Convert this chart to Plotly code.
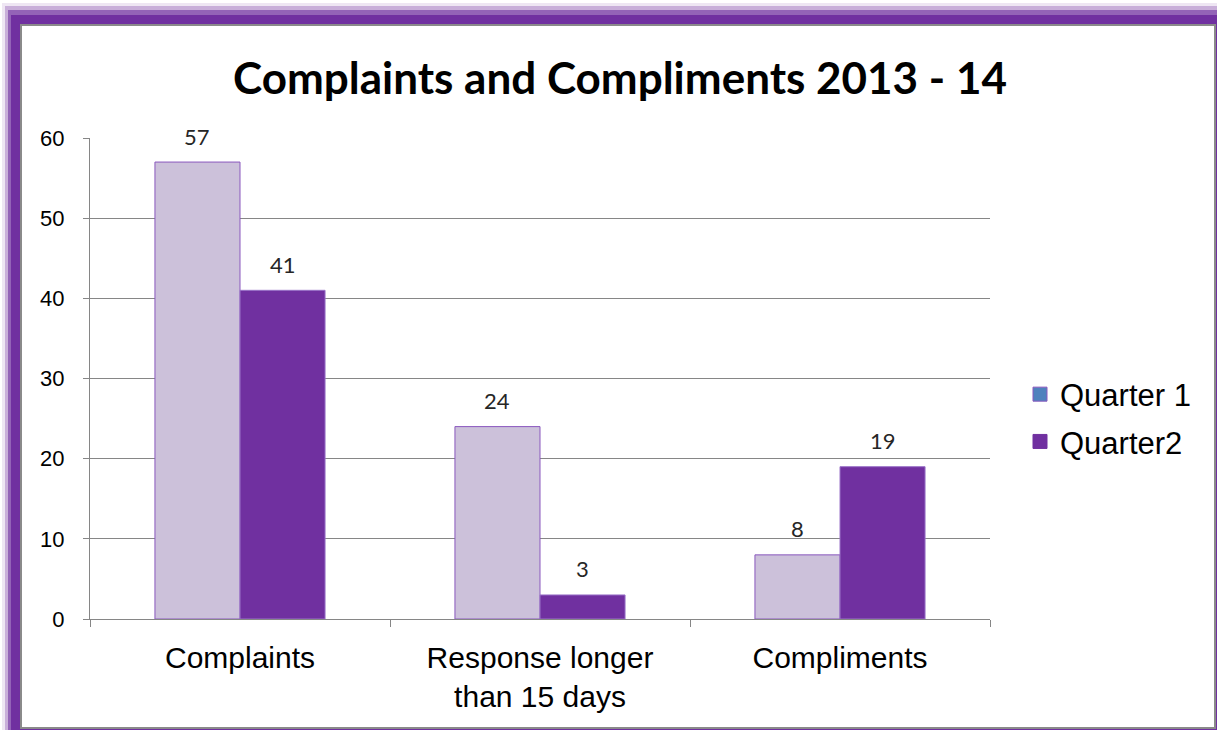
import plotly.graph_objects as go

categories = ["Complaints", "Response longer<br>than 15 days", "Compliments"]
quarter1 = [57, 24, 8]
quarter2 = [41, 3, 19]
series_names = ["Quarter 1", "Quarter2"]
title_text = "Complaints and Compliments 2013 - 14"
y_ticks = [0, 10, 20, 30, 40, 50, 60]

W, H = 1217, 730
L, R, T, B = 90, 990, 138, 619

def px_x(p):
    return (p - L) / (R - L)

def px_y(p):
    return (B - p) / (B - T)

fig = go.Figure()
fig.add_trace(go.Bar(x=categories, y=quarter1, name=series_names[0], showlegend=False,
                     marker=dict(color="#CCC1DA", line=dict(color="#8a58be", width=1))))
fig.add_trace(go.Bar(x=categories, y=quarter2, name=series_names[1], showlegend=False,
                     marker=dict(color="#7030A0", line=dict(color="#9a72c8", width=1))))
# legend-only entries (Excel legend shows the series default swatches)
fig.add_trace(go.Scatter(x=[None], y=[None], mode="markers", name=series_names[0], legendgroup="a",
                         marker=dict(symbol="square", size=14, color="#4F81BD",
                                     line=dict(color="#8a58be", width=1))))
fig.add_trace(go.Scatter(x=[None], y=[None], mode="markers", name=series_names[1], legendgroup="b",
                         marker=dict(symbol="square", size=14, color="#7030A0",
                                     line=dict(color="#7030A0", width=1))))

bargap = 0.433
half = (1 - bargap) / 4
annotations = []
for series, off in ((quarter1, -half), (quarter2, half)):
    for i, v in enumerate(series):
        annotations.append(dict(x=i + off, y=v, xref="x", yref="y", text=str(v),
                                showarrow=False, yanchor="middle", yshift=26,
                                font=dict(family="Lato, Carlito, sans-serif", size=22, color="#262626")))

annotations.append(dict(x=px_x(620), y=px_y(77), xref="paper", yref="paper",
                        text="<b>" + title_text + "</b>", showarrow=False,
                        xanchor="center", yanchor="middle",
                        font=dict(family="Lato, Carlito, sans-serif", size=44, color="black")))

shapes = []
def rect(x0, y0, x1, y1, color):
    shapes.append(dict(type="rect", xref="paper", yref="paper", layer="below",
                       x0=px_x(x0), x1=px_x(x1), y0=px_y(y0), y1=px_y(y1),
                       fillcolor=color, line=dict(width=0)))

rect(2, 3, 1240, 760, "rgba(112,48,160,0.12)")
rect(5, 6, 1240, 760, "rgba(112,48,160,0.3)")
rect(8, 10, 1240, 760, "rgba(112,48,160,0.6)")
rect(11, 15, 1240, 760, "#7030A0")
rect(20, 24, 1216, 729, "#8a8a8a")
rect(22, 26, 1214, 727, "white")

fig.update_layout(
    width=W, height=H,
    margin=dict(l=L, r=W - R, t=T, b=H - B, pad=0),
    paper_bgcolor="white",
    plot_bgcolor="rgba(0,0,0,0)",
    barmode="group", bargap=bargap, bargroupgap=0,
    showlegend=True,
    legend=dict(x=px_x(1020), y=px_y(418), xanchor="left", yanchor="middle",
                font=dict(family="Liberation Sans, Arial, sans-serif", size=31, color="black"),
                traceorder="grouped", tracegroupgap=4, bgcolor="rgba(0,0,0,0)"),
    annotations=annotations,
    shapes=shapes,
    font=dict(family="Liberation Sans, Arial, sans-serif", color="black"),
)
fig.update_xaxes(type="category", tickson="boundaries", ticks="outside", ticklen=7,
                 tickcolor="#868686", showline=True, linecolor="#868686", linewidth=1,
                 showgrid=False, tickfont=dict(size=30, family="Liberation Sans, Arial, sans-serif"),
                 ticklabelstandoff=12)
fig.update_yaxes(range=[0, 60], tickvals=y_ticks, ticks="outside", ticklen=6,
                 tickcolor="#868686", showline=True, linecolor="#868686", linewidth=1,
                 showgrid=True, gridcolor="#868686", gridwidth=1, zeroline=False,
                 tickfont=dict(size=22, family="Liberation Sans, Arial, sans-serif"),
                 ticklabelstandoff=14)

fig.write_html("out.html", config={"displayModeBar": False},
               post_script="document.body.style.margin='0';document.body.style.overflow='hidden';")
